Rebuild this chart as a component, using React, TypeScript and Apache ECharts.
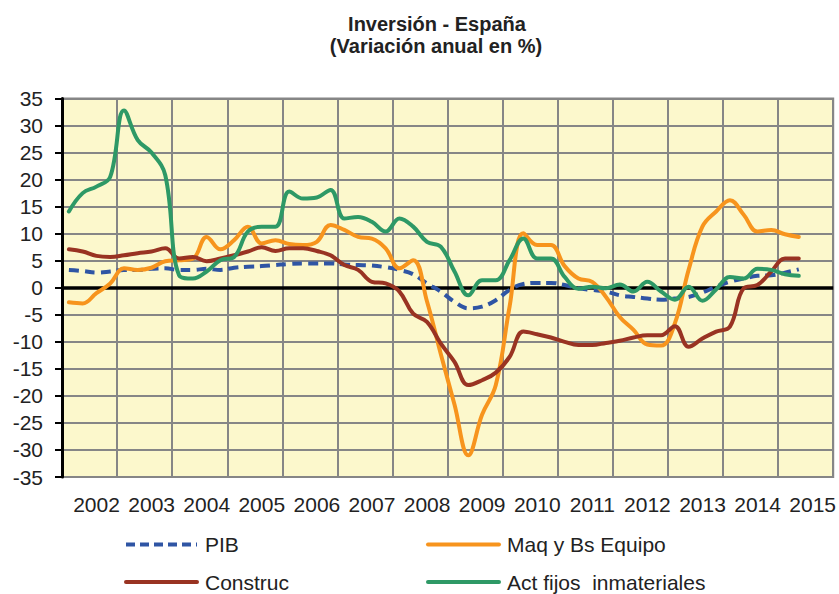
import React, { useEffect, useRef } from "react";
import * as echarts from "echarts";

const FONT = '"Liberation Sans", Arial, sans-serif';

const years = ["2002", "2003", "2004", "2005", "2006", "2007", "2008", "2009", "2010", "2011", "2012", "2013", "2014", "2015"];
const quarterNames = ["T1", "T2", "T3", "T4"];
const quarters = years.flatMap((y) => quarterNames.map((q) => `${y} ${q}`));

const seriesNames = ["PIB", "Maq y Bs Equipo", "Construc", "Act fijos  inmateriales"];
const seriesColors = ["#2f55a4", "#f7941d", "#993322", "#2e9966"];

// quarterly values, 2002 T1 .. 2015 T2
const pib = [
  3.3, 3.1, 2.8, 3.0, 3.3, 3.3, 3.5, 3.6, 3.3, 3.3, 3.5, 3.3, 3.7, 3.9, 4.0, 4.2,
  4.4, 4.5, 4.5, 4.5, 4.3, 4.2, 4.1, 3.8, 3.3, 2.5, 0.8, -0.7, -2.6, -3.8, -3.5, -2.3,
  -0.4, 0.7, 0.9, 0.9, 0.5, -0.1, -0.4, -0.7, -1.4, -1.7, -2.0, -2.2, -2.0, -1.7, -0.9, 0.2,
  1.1, 1.7, 2.2, 2.3, 2.8, 3.4,
];
const maq = [
  -2.7, -2.9, -1.0, 0.8, 3.6, 3.3, 3.7, 4.9, 5.1, 5.4, 9.4, 7.1, 8.8, 11.3, 8.2, 8.8,
  8.1, 7.9, 8.5, 11.6, 10.7, 9.4, 9.1, 7.3, 3.6, 5.1, -2.5, -12.2, -21.6, -31.0, -23.5, -18.0,
  -3.5, 10.1, 7.9, 7.9, 4.0, 1.7, 1.1, -1.7, -5.4, -7.8, -10.5, -10.7, -6.6, 3.3, 11.3, 14.1,
  16.2, 13.5, 10.4, 10.7, 9.9, 9.4,
];
const construc = [
  7.1, 6.7, 5.9, 5.7, 6.0, 6.4, 6.7, 7.3, 5.4, 5.7, 4.9, 5.4, 6.0, 6.7, 7.5, 6.8,
  7.3, 7.3, 6.8, 6.0, 4.2, 3.3, 1.1, 0.8, -0.7, -4.8, -6.3, -10.3, -13.7, -18.0, -17.1, -15.7,
  -12.8, -8.1, -8.6, -9.2, -10.0, -10.6, -10.6, -10.2, -9.8, -9.2, -8.8, -8.8, -7.1, -10.9, -9.4, -8.1,
  -7.2, -0.1, 0.5, 3.0, 5.4, 5.4,
];
const actFijos = [
  14.1, 17.5, 18.7, 20.5, 32.8, 27.3, 25.0, 20.8, 2.3, 1.7, 3.0, 5.1, 5.7, 10.4, 11.3, 11.3,
  17.8, 16.5, 16.7, 18.1, 12.8, 13.1, 12.2, 10.4, 12.8, 11.3, 8.5, 7.6, 3.0, -1.4, 1.4, 1.4,
  5.1, 9.1, 5.4, 5.4, 2.0, -0.2, 0.2, -0.1, 0.6, -0.7, 1.1, -0.7, -2.2, 0.2, -2.4, -0.3,
  2.0, 1.7, 3.5, 3.3, 2.5, 2.2,
];

const yTicks = { min: -35, max: 35, step: 5 };
const titleLines = ["Inversión - España", "(Variación anual en %)"];

export default function App() {
  const ref = useRef<HTMLDivElement>(null);

  useEffect(() => {
    const chart = echarts.init(ref.current as HTMLDivElement, null, { renderer: "svg" });
    const lineSeries = (i: number, data: number[], dashed: boolean) => ({
      name: seriesNames[i],
      type: "line",
      xAxisIndex: 1,
      data,
      symbol: "none",
      smooth: 0.4,
      z: 3 + i,
      lineStyle: {
        color: seriesColors[i],
        width: 4,
        type: dashed ? [10, 6] : "solid",
        cap: dashed ? "butt" : "round",
        join: "round",
      },
      itemStyle: { color: seriesColors[i] },
    });

    const pibSeries: any = lineSeries(0, pib, true);
    pibSeries.markLine = {
      silent: true,
      symbol: "none",
      label: { show: false },
      lineStyle: { color: "#000", width: 3.5, type: "solid" },
      data: [{ yAxis: 0 }],
      z: 2,
    };

    // legend drawn as graphic (two columns)
    const legendPos = [
      { x: 126, y: 544.5 },
      { x: 428, y: 544.5 },
      { x: 126, y: 582 },
      { x: 428, y: 582 },
    ];
    const legendGraphics: any[] = [];
    seriesNames.forEach((name, i) => {
      const p = legendPos[i];
      legendGraphics.push({
        type: "line",
        shape: { x1: p.x, y1: p.y, x2: p.x + 71, y2: p.y },
        style: {
          stroke: seriesColors[i],
          lineWidth: 4,
          lineDash: i === 0 ? [9, 5] : null,
          lineCap: i === 0 ? "butt" : "round",
        },
      });
      legendGraphics.push({
        type: "text",
        x: p.x + 79,
        y: p.y,
        style: {
          text: name,
          font: `21px ${FONT}`,
          fill: "#222",
          align: "left",
          verticalAlign: "middle",
        },
      });
    });

    chart.setOption({
      animation: false,
      textStyle: { fontFamily: FONT },
      graphic: [
        {
          type: "text",
          x: 437,
          y: 24,
          style: {
            text: titleLines[0],
            font: `bold 20px ${FONT}`,
            fill: "#222",
            align: "center",
            verticalAlign: "middle",
          },
        },
        {
          type: "text",
          x: 436,
          y: 46,
          style: {
            text: titleLines[1],
            font: `bold 20px ${FONT}`,
            fill: "#222",
            align: "center",
            verticalAlign: "middle",
          },
        },
        ...legendGraphics,
      ],
      grid: {
        left: 62,
        right: 5,
        top: 98.5,
        bottom: 117,
        show: true,
        backgroundColor: "#fcf8cc",
        borderColor: "#868686",
        borderWidth: 2,
      },
      xAxis: [
        {
          type: "category",
          data: years,
          boundaryGap: true,
          axisLine: { show: false },
          axisTick: { show: false },
          axisLabel: {
            interval: 0,
            color: "#222",
            fontSize: 21,
            margin: 17,
            padding: [0, 0, 0, 14],
            fontFamily: FONT,
          },
          splitLine: { show: true, interval: 0, lineStyle: { color: "#868686", width: 2 } },
        },
        {
          type: "category",
          data: quarters,
          boundaryGap: true,
          show: false,
          position: "bottom",
        },
      ],
      yAxis: {
        type: "value",
        min: yTicks.min,
        max: yTicks.max,
        interval: yTicks.step,
        axisLine: { show: true, lineStyle: { color: "#000", width: 3 } },
        axisTick: { show: true, length: 7, lineStyle: { color: "#000", width: 2 } },
        axisLabel: { color: "#222", fontSize: 21, margin: 19, fontFamily: FONT },
        splitLine: { show: true, lineStyle: { color: "#868686", width: 2 } },
      },
      series: [
        pibSeries,
        lineSeries(1, maq, false),
        lineSeries(2, construc, false),
        lineSeries(3, actFijos, false),
      ],
    });
    return () => chart.dispose();
  }, []);

  return <div ref={ref} style={{ position: "absolute", left: 0, top: 0, width: 839, height: 594 }} />;
}
